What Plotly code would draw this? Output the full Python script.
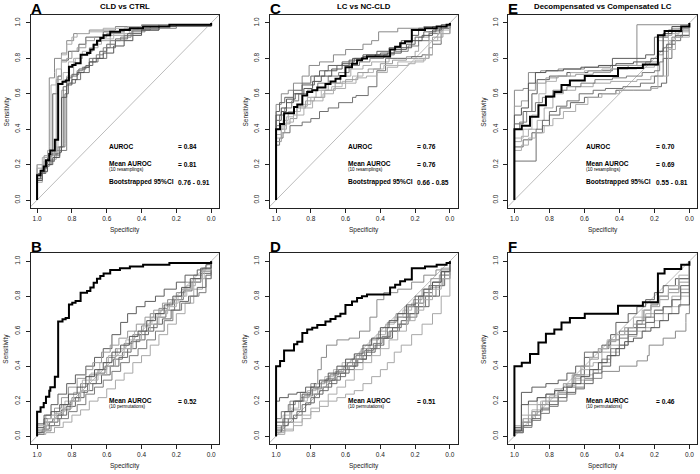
import plotly.graph_objects as go

# ---------------- data ----------------
tick_vals = [1.0, 0.8, 0.6, 0.4, 0.2, 0.0]
tick_text = ["1.0", "0.8", "0.6", "0.4", "0.2", "0.0"]

panel_letters = ["A", "C", "E", "B", "D", "F"]
panel_titles = ["CLD vs CTRL", "LC vs NC-CLD", "Decompensated vs Compensated LC"]

auroc_vals = ["0.84", "0.76", "0.70"]
mean_resample_vals = ["0.81", "0.76", "0.69"]
ci_vals = ["0.76 - 0.91", "0.66 - 0.85", "0.55 - 0.81"]
mean_perm_vals = ["0.52", "0.51", "0.46"]

# main ROC curves (specificity, sensitivity) vertices
cld_ctrl_roc = [(1, 0), (1, 0.14), (0.98, 0.165), (0.962, 0.19), (0.949, 0.225), (0.93, 0.26), (0.924, 0.28),
                (0.898, 0.34), (0.879, 0.655), (0.854, 0.668), (0.836, 0.675), (0.817, 0.753), (0.798, 0.763),
                (0.779, 0.772), (0.75, 0.82), (0.713, 0.83), (0.694, 0.85), (0.675, 0.877), (0.656, 0.9),
                (0.637, 0.915), (0.618, 0.93), (0.58, 0.95), (0.524, 0.96), (0.467, 0.97), (0.391, 0.98),
                (0.24, 0.99), (0.0, 1.0)]
lc_ncld_roc = [(1, 0), (1, 0.40), (0.977, 0.43), (0.954, 0.49), (0.897, 0.525), (0.878, 0.54), (0.849, 0.59),
               (0.821, 0.61), (0.792, 0.62), (0.763, 0.635), (0.716, 0.655), (0.687, 0.67), (0.658, 0.685),
               (0.63, 0.70), (0.601, 0.75), (0.563, 0.77), (0.534, 0.79), (0.506, 0.80), (0.477, 0.81),
               (0.344, 0.85), (0.315, 0.865), (0.286, 0.885), (0.258, 0.895), (0.219, 0.96), (0.143, 0.97),
               (0.076, 0.98), (0.019, 0.99), (0, 1.0)]
decomp_roc = [(1, 0), (1, 0.40), (0.958, 0.42), (0.911, 0.47), (0.863, 0.535), (0.82, 0.585), (0.772, 0.61),
              (0.731, 0.65), (0.683, 0.675), (0.598, 0.70), (0.408, 0.745), (0.266, 0.765), (0.18, 0.93),
              (0.142, 0.955), (0.047, 0.98), (0, 1.0)]

cld_ctrl_resamplings = [
    [(1,0),(1,0.2),(0.96,0.25),(0.93,0.3),(0.93,0.69),(0.9,0.72),(0.9,0.8),(0.86,0.83),(0.83,0.9),(0.79,0.94),(0.7,0.96),(0.55,0.98),(0.4,0.99),(0,1)],
    [(1,0),(1,0.12),(0.97,0.18),(0.94,0.25),(0.91,0.28),(0.91,0.6),(0.88,0.7),(0.86,0.79),(0.82,0.84),(0.76,0.88),(0.72,0.92),(0.62,0.95),(0.5,0.97),(0.3,0.99),(0,1)],
    [(1,0),(1,0.1),(0.97,0.2),(0.92,0.23),(0.89,0.28),(0.86,0.32),(0.86,0.62),(0.83,0.7),(0.79,0.8),(0.74,0.82),(0.7,0.86),(0.65,0.9),(0.58,0.93),(0.5,0.96),(0.4,0.98),(0.25,0.99),(0,1)],
    [(1,0),(1,0.15),(0.96,0.2),(0.92,0.26),(0.88,0.3),(0.84,0.32),(0.84,0.6),(0.82,0.66),(0.78,0.68),(0.75,0.72),(0.7,0.78),(0.65,0.8),(0.6,0.86),(0.55,0.9),(0.5,0.93),(0.45,0.96),(0.35,0.98),(0.2,0.99),(0,1)],
    [(1,0),(1,0.13),(0.97,0.2),(0.93,0.27),(0.9,0.3),(0.88,0.32),(0.88,0.66),(0.85,0.72),(0.82,0.78),(0.78,0.8),(0.74,0.84),(0.68,0.88),(0.63,0.91),(0.56,0.94),(0.47,0.97),(0.3,0.98),(0,1)],
    [(1,0),(1,0.12),(0.98,0.15),(0.95,0.22),(0.9,0.26),(0.87,0.3),(0.85,0.35),(0.85,0.64),(0.83,0.69),(0.8,0.71),(0.76,0.74),(0.72,0.76),(0.68,0.8),(0.64,0.84),(0.6,0.88),(0.55,0.91),(0.48,0.94),(0.4,0.96),(0.3,0.98),(0.2,0.99),(0,1)],
    [(1,0),(1,0.18),(0.96,0.22),(0.93,0.25),(0.9,0.27),(0.89,0.3),(0.89,0.68),(0.86,0.78),(0.83,0.8),(0.8,0.84),(0.77,0.86),(0.72,0.9),(0.67,0.92),(0.6,0.94),(0.52,0.96),(0.42,0.98),(0.25,0.99),(0,1)],
    [(1,0),(1,0.15),(0.96,0.19),(0.93,0.22),(0.9,0.25),(0.87,0.28),(0.83,0.3),(0.83,0.66),(0.8,0.7),(0.77,0.73),(0.74,0.75),(0.7,0.8),(0.66,0.82),(0.62,0.86),(0.58,0.9),(0.52,0.92),(0.46,0.95),(0.38,0.97),(0.2,0.98),(0,1)],
    [(1,0),(1,0.2),(0.97,0.24),(0.94,0.28),(0.92,0.3),(0.92,0.65),(0.89,0.74),(0.86,0.82),(0.83,0.88),(0.8,0.92),(0.77,0.94),(0.7,0.95),(0.62,0.97),(0.48,0.98),(0.3,0.99),(0,1)],
    [(1,0),(1,0.11),(0.97,0.16),(0.94,0.2),(0.91,0.24),(0.87,0.27),(0.86,0.3),(0.86,0.58),(0.83,0.65),(0.8,0.68),(0.77,0.72),(0.73,0.75),(0.7,0.78),(0.66,0.8),(0.62,0.83),(0.56,0.87),(0.5,0.9),(0.45,0.93),(0.4,0.96),(0.3,0.98),(0.2,0.99),(0,1)],
]

lc_ncld_resamplings = [
    [(1,0),(1,0.54),(0.97,0.6),(0.93,0.62),(0.9,0.66),(0.85,0.7),(0.81,0.76),(0.75,0.78),(0.67,0.82),(0.6,0.85),(0.5,0.88),(0.45,0.9),(0.41,0.95),(0.3,0.97),(0.15,0.98),(0,1)],
    [(1,0),(1,0.45),(0.97,0.5),(0.94,0.55),(0.9,0.6),(0.85,0.65),(0.78,0.7),(0.72,0.73),(0.65,0.76),(0.58,0.79),(0.5,0.82),(0.42,0.84),(0.35,0.86),(0.28,0.9),(0.22,0.93),(0.18,0.97),(0.1,0.98),(0,1)],
    [(1,0),(1,0.4),(0.96,0.45),(0.93,0.5),(0.88,0.53),(0.82,0.58),(0.77,0.62),(0.7,0.66),(0.63,0.7),(0.57,0.74),(0.5,0.76),(0.45,0.78),(0.35,0.8),(0.25,0.81),(0.2,0.84),(0.18,0.92),(0.12,0.95),(0.05,0.98),(0,1)],
    [(1,0),(1,0.31),(0.98,0.35),(0.96,0.38),(0.92,0.42),(0.85,0.44),(0.8,0.46),(0.75,0.5),(0.7,0.52),(0.64,0.55),(0.56,0.58),(0.54,0.59),(0.47,0.64),(0.42,0.73),(0.37,0.8),(0.3,0.8),(0.22,0.81),(0.16,0.82),(0.1,0.88),(0.05,0.94),(0,1)],
    [(1,0),(1,0.35),(0.97,0.42),(0.94,0.47),(0.9,0.5),(0.86,0.54),(0.8,0.58),(0.74,0.62),(0.68,0.64),(0.62,0.67),(0.56,0.7),(0.5,0.72),(0.44,0.74),(0.38,0.76),(0.3,0.78),(0.2,0.79),(0.14,0.82),(0.1,0.9),(0.05,0.96),(0,1)],
    [(1,0),(1,0.5),(0.98,0.55),(0.95,0.58),(0.9,0.62),(0.85,0.66),(0.8,0.7),(0.75,0.73),(0.7,0.76),(0.62,0.78),(0.55,0.8),(0.48,0.82),(0.4,0.83),(0.32,0.85),(0.25,0.88),(0.2,0.92),(0.15,0.95),(0.08,0.97),(0,1)],
    [(1,0),(1,0.33),(0.97,0.38),(0.95,0.43),(0.92,0.46),(0.88,0.52),(0.83,0.56),(0.78,0.58),(0.72,0.62),(0.66,0.66),(0.6,0.68),(0.53,0.72),(0.47,0.74),(0.4,0.77),(0.33,0.79),(0.25,0.8),(0.18,0.8),(0.12,0.86),(0.1,0.92),(0.04,0.97),(0,1)],
    [(1,0),(1,0.42),(0.98,0.48),(0.95,0.52),(0.91,0.56),(0.87,0.6),(0.82,0.62),(0.76,0.66),(0.7,0.7),(0.64,0.72),(0.58,0.76),(0.52,0.78),(0.46,0.8),(0.38,0.82),(0.32,0.84),(0.24,0.87),(0.18,0.9),(0.12,0.94),(0.06,0.97),(0,1)],
    [(1,0),(1,0.37),(0.97,0.4),(0.94,0.44),(0.9,0.48),(0.84,0.52),(0.79,0.56),(0.73,0.6),(0.67,0.63),(0.6,0.66),(0.54,0.69),(0.48,0.7),(0.42,0.72),(0.36,0.75),(0.3,0.76),(0.24,0.77),(0.2,0.78),(0.15,0.8),(0.12,0.9),(0.07,0.94),(0,1)],
    [(1,0),(1,0.48),(0.97,0.52),(0.94,0.57),(0.89,0.6),(0.84,0.63),(0.79,0.67),(0.74,0.7),(0.68,0.74),(0.62,0.77),(0.56,0.8),(0.5,0.81),(0.43,0.82),(0.36,0.83),(0.28,0.86),(0.22,0.9),(0.16,0.93),(0.1,0.96),(0.05,0.99),(0,1)],
]

decomp_resamplings = [
    [(1,0),(1,0.62),(0.95,0.63),(0.92,0.72),(0.85,0.73),(0.75,0.74),(0.6,0.75),(0.45,0.76),(0.3,0.78),(0.3,0.99),(0,1)],
    [(1,0),(1,0.43),(0.95,0.5),(0.9,0.6),(0.87,0.68),(0.8,0.7),(0.7,0.72),(0.58,0.73),(0.44,0.8),(0.25,0.82),(0.2,0.92),(0.12,0.96),(0.05,0.97),(0,1)],
    [(1,0),(1,0.33),(0.96,0.36),(0.92,0.4),(0.87,0.45),(0.83,0.52),(0.78,0.6),(0.72,0.62),(0.65,0.64),(0.55,0.66),(0.45,0.67),(0.3,0.68),(0.22,0.7),(0.18,0.84),(0.12,0.9),(0.08,0.95),(0,1)],
    [(1,0),(1,0.22),(0.876,0.22),(0.876,0.4),(0.84,0.45),(0.8,0.5),(0.76,0.53),(0.7,0.56),(0.63,0.6),(0.55,0.62),(0.48,0.63),(0.38,0.64),(0.28,0.66),(0.2,0.7),(0.15,0.8),(0.1,0.9),(0.05,0.93),(0,1)],
    [(1,0),(1,0.35),(0.95,0.4),(0.9,0.48),(0.86,0.6),(0.82,0.67),(0.76,0.7),(0.68,0.72),(0.6,0.73),(0.5,0.74),(0.4,0.74),(0.3,0.75),(0.2,0.76),(0.18,0.9),(0.12,0.94),(0.06,0.97),(0,1)],
    [(1,0),(1,0.3),(0.95,0.34),(0.9,0.38),(0.84,0.42),(0.8,0.48),(0.74,0.52),(0.68,0.55),(0.6,0.58),(0.52,0.6),(0.42,0.62),(0.32,0.62),(0.22,0.64),(0.16,0.66),(0.13,0.88),(0.08,0.93),(0,1)],
    [(1,0),(1,0.53),(0.96,0.56),(0.92,0.62),(0.88,0.66),(0.82,0.69),(0.75,0.7),(0.65,0.71),(0.55,0.72),(0.45,0.74),(0.35,0.76),(0.25,0.78),(0.18,0.82),(0.15,0.93),(0.1,0.97),(0,1)],
    [(1,0),(1,0.4),(0.97,0.44),(0.93,0.5),(0.88,0.55),(0.84,0.58),(0.78,0.62),(0.7,0.64),(0.62,0.66),(0.54,0.68),(0.44,0.69),(0.36,0.7),(0.27,0.72),(0.2,0.73),(0.17,0.78),(0.15,0.86),(0.1,0.92),(0.04,0.96),(0,1)],
    [(1,0),(1,0.28),(0.96,0.31),(0.92,0.35),(0.88,0.38),(0.83,0.42),(0.78,0.46),(0.72,0.5),(0.65,0.54),(0.58,0.58),(0.5,0.6),(0.4,0.62),(0.3,0.62),(0.22,0.63),(0.18,0.7),(0.12,0.85),(0.08,0.92),(0,1)],
    [(1,0),(1,0.48),(0.96,0.52),(0.92,0.66),(0.88,0.72),(0.82,0.73),(0.72,0.74),(0.62,0.75),(0.52,0.76),(0.42,0.77),(0.32,0.78),(0.22,0.8),(0.18,0.84),(0.15,0.94),(0.1,0.98),(0,1)],
]

cld_ctrl_permutations = [
    [(1,0),(1,0.03),(0.95,0.06),(0.9,0.12),(0.85,0.18),(0.8,0.22),(0.75,0.3),(0.7,0.35),(0.65,0.38),(0.6,0.45),(0.55,0.5),(0.5,0.53),(0.45,0.58),(0.4,0.63),(0.35,0.7),(0.3,0.73),(0.25,0.78),(0.2,0.82),(0.15,0.88),(0.1,0.92),(0.05,0.96),(0,1)],
    [(1,0),(1,0.05),(0.96,0.1),(0.92,0.18),(0.88,0.24),(0.83,0.3),(0.78,0.35),(0.72,0.4),(0.67,0.45),(0.62,0.5),(0.57,0.58),(0.52,0.65),(0.48,0.7),(0.43,0.74),(0.38,0.77),(0.32,0.8),(0.27,0.84),(0.2,0.88),(0.15,0.92),(0.08,0.95),(0.03,0.98),(0,1)],
    [(1,0),(1,0.01),(0.95,0.02),(0.9,0.05),(0.85,0.08),(0.8,0.12),(0.75,0.15),(0.7,0.2),(0.65,0.22),(0.6,0.27),(0.55,0.32),(0.5,0.36),(0.45,0.42),(0.4,0.46),(0.35,0.52),(0.3,0.58),(0.25,0.64),(0.2,0.7),(0.15,0.76),(0.1,0.84),(0.05,0.9),(0,1)],
    [(1,0),(1,0.02),(0.96,0.08),(0.91,0.1),(0.86,0.15),(0.81,0.2),(0.76,0.25),(0.71,0.3),(0.66,0.36),(0.61,0.4),(0.56,0.44),(0.51,0.48),(0.46,0.54),(0.41,0.58),(0.36,0.62),(0.31,0.68),(0.26,0.72),(0.21,0.78),(0.16,0.83),(0.11,0.88),(0.06,0.93),(0,1)],
    [(1,0),(1,0.06),(0.94,0.1),(0.89,0.14),(0.84,0.2),(0.79,0.25),(0.74,0.32),(0.69,0.36),(0.64,0.42),(0.59,0.46),(0.54,0.5),(0.49,0.55),(0.44,0.6),(0.39,0.64),(0.34,0.68),(0.29,0.72),(0.24,0.76),(0.19,0.8),(0.14,0.86),(0.09,0.9),(0.04,0.95),(0,1)],
    [(1,0),(1,0.02),(0.97,0.04),(0.93,0.08),(0.88,0.12),(0.83,0.17),(0.78,0.22),(0.73,0.26),(0.68,0.3),(0.63,0.35),(0.58,0.4),(0.53,0.45),(0.48,0.5),(0.43,0.55),(0.38,0.6),(0.33,0.64),(0.28,0.67),(0.23,0.72),(0.18,0.77),(0.13,0.8),(0.08,0.85),(0.03,0.92),(0,1)],
    [(1,0),(1,0.04),(0.95,0.12),(0.9,0.16),(0.86,0.22),(0.82,0.28),(0.77,0.33),(0.72,0.38),(0.68,0.42),(0.63,0.48),(0.58,0.52),(0.53,0.56),(0.48,0.6),(0.43,0.64),(0.38,0.68),(0.33,0.72),(0.28,0.76),(0.22,0.78),(0.17,0.84),(0.12,0.88),(0.06,0.94),(0,1)],
    [(1,0),(1,0.01),(0.96,0.03),(0.92,0.06),(0.87,0.1),(0.82,0.14),(0.77,0.18),(0.72,0.24),(0.67,0.28),(0.62,0.32),(0.57,0.37),(0.52,0.42),(0.47,0.46),(0.42,0.5),(0.37,0.55),(0.32,0.6),(0.27,0.66),(0.22,0.72),(0.17,0.76),(0.12,0.8),(0.07,0.82),(0.03,0.9),(0,1)],
    [(1,0),(1,0.03),(0.95,0.08),(0.9,0.13),(0.85,0.16),(0.8,0.2),(0.75,0.26),(0.7,0.32),(0.65,0.35),(0.6,0.4),(0.55,0.46),(0.5,0.5),(0.45,0.55),(0.4,0.6),(0.35,0.64),(0.3,0.7),(0.25,0.74),(0.2,0.8),(0.15,0.84),(0.1,0.9),(0.05,0.95),(0,1)],
    [(1,0),(1,0.07),(0.96,0.12),(0.92,0.14),(0.87,0.18),(0.82,0.24),(0.77,0.28),(0.72,0.34),(0.67,0.38),(0.62,0.42),(0.57,0.48),(0.52,0.52),(0.47,0.57),(0.42,0.6),(0.37,0.66),(0.32,0.7),(0.27,0.75),(0.22,0.8),(0.17,0.85),(0.12,0.9),(0.06,0.96),(0,1)],
]

lc_ncld_permutations = [
    [(1,0),(1,0.04),(0.96,0.1),(0.92,0.2),(0.86,0.25),(0.8,0.3),(0.76,0.38),(0.74,0.45),(0.71,0.52),(0.65,0.55),(0.58,0.56),(0.52,0.6),(0.46,0.68),(0.42,0.78),(0.38,0.82),(0.3,0.84),(0.22,0.88),(0.15,0.92),(0.08,0.95),(0,1)],
    [(1,0),(1,0.2),(0.98,0.22),(0.93,0.24),(0.88,0.25),(0.83,0.28),(0.78,0.3),(0.72,0.32),(0.66,0.36),(0.6,0.4),(0.54,0.44),(0.48,0.5),(0.42,0.56),(0.36,0.62),(0.3,0.68),(0.24,0.74),(0.18,0.8),(0.12,0.86),(0.06,0.92),(0,1)],
    [(1,0),(1,0.01),(0.95,0.03),(0.9,0.06),(0.85,0.1),(0.8,0.14),(0.75,0.17),(0.7,0.2),(0.65,0.22),(0.6,0.24),(0.55,0.26),(0.5,0.3),(0.45,0.34),(0.4,0.38),(0.36,0.42),(0.32,0.48),(0.28,0.52),(0.22,0.58),(0.16,0.64),(0.1,0.7),(0.05,0.8),(0,1)],
    [(1,0),(1,0.03),(0.95,0.08),(0.9,0.12),(0.85,0.18),(0.8,0.22),(0.75,0.26),(0.7,0.3),(0.65,0.34),(0.6,0.38),(0.55,0.42),(0.5,0.46),(0.45,0.5),(0.4,0.56),(0.35,0.6),(0.3,0.64),(0.25,0.7),(0.2,0.76),(0.15,0.82),(0.1,0.88),(0.05,0.94),(0,1)],
    [(1,0),(1,0.05),(0.96,0.12),(0.92,0.16),(0.87,0.2),(0.82,0.26),(0.77,0.3),(0.72,0.34),(0.67,0.38),(0.62,0.42),(0.57,0.44),(0.52,0.48),(0.47,0.52),(0.42,0.58),(0.37,0.64),(0.32,0.68),(0.27,0.72),(0.22,0.76),(0.17,0.8),(0.12,0.85),(0.06,0.92),(0,1)],
    [(1,0),(1,0.02),(0.97,0.06),(0.93,0.1),(0.88,0.14),(0.83,0.19),(0.78,0.24),(0.73,0.28),(0.68,0.32),(0.63,0.36),(0.58,0.4),(0.53,0.44),(0.48,0.48),(0.43,0.52),(0.38,0.56),(0.33,0.62),(0.28,0.66),(0.23,0.7),(0.18,0.74),(0.12,0.8),(0.06,0.86),(0.03,0.94),(0,1)],
    [(1,0),(1,0.06),(0.96,0.1),(0.91,0.15),(0.86,0.22),(0.81,0.24),(0.76,0.28),(0.71,0.33),(0.66,0.37),(0.61,0.4),(0.56,0.44),(0.51,0.5),(0.46,0.55),(0.41,0.6),(0.36,0.65),(0.31,0.7),(0.26,0.74),(0.21,0.78),(0.16,0.84),(0.11,0.9),(0.05,0.96),(0,1)],
    [(1,0),(1,0.1),(0.97,0.14),(0.93,0.18),(0.89,0.2),(0.84,0.23),(0.79,0.27),(0.74,0.31),(0.69,0.35),(0.64,0.38),(0.59,0.42),(0.54,0.46),(0.49,0.49),(0.44,0.53),(0.39,0.57),(0.34,0.6),(0.29,0.64),(0.24,0.68),(0.19,0.74),(0.14,0.8),(0.08,0.86),(0.04,0.9),(0,1)],
    [(1,0),(1,0.02),(0.95,0.04),(0.9,0.08),(0.85,0.12),(0.8,0.16),(0.75,0.2),(0.7,0.24),(0.65,0.28),(0.6,0.32),(0.55,0.38),(0.5,0.42),(0.45,0.46),(0.4,0.5),(0.35,0.55),(0.3,0.6),(0.25,0.66),(0.2,0.72),(0.15,0.78),(0.1,0.84),(0.05,0.9),(0,1)],
    [(1,0),(1,0.08),(0.95,0.14),(0.9,0.2),(0.85,0.24),(0.8,0.28),(0.75,0.32),(0.7,0.36),(0.65,0.4),(0.6,0.44),(0.55,0.47),(0.5,0.52),(0.45,0.56),(0.4,0.62),(0.35,0.66),(0.3,0.7),(0.25,0.75),(0.2,0.8),(0.15,0.84),(0.1,0.88),(0.05,0.94),(0,1)],
]

decomp_permutations = [
    [(1,0),(1,0.02),(0.95,0.1),(0.9,0.14),(0.85,0.18),(0.8,0.22),(0.75,0.25),(0.7,0.28),(0.65,0.3),(0.6,0.33),(0.5,0.37),(0.4,0.4),(0.3,0.43),(0.24,0.46),(0.23,0.52),(0.15,0.56),(0.08,0.6),(0.02,0.65),(0.02,0.7),(0,1)],
    [(1,0),(1,0.05),(0.96,0.25),(0.9,0.28),(0.82,0.3),(0.75,0.32),(0.7,0.36),(0.65,0.4),(0.6,0.45),(0.55,0.48),(0.5,0.52),(0.45,0.58),(0.42,0.65),(0.35,0.7),(0.3,0.74),(0.25,0.78),(0.2,0.82),(0.15,0.86),(0.08,0.9),(0,1)],
    [(1,0),(1,0.03),(0.96,0.06),(0.92,0.1),(0.88,0.14),(0.84,0.2),(0.8,0.22),(0.75,0.25),(0.7,0.28),(0.65,0.34),(0.6,0.4),(0.55,0.42),(0.5,0.48),(0.45,0.52),(0.4,0.58),(0.35,0.62),(0.3,0.66),(0.25,0.7),(0.2,0.72),(0.15,0.74),(0.1,0.8),(0.05,0.84),(0,0.9),(0,1)],
    [(1,0),(1,0.02),(0.95,0.08),(0.9,0.12),(0.85,0.16),(0.8,0.2),(0.75,0.24),(0.7,0.3),(0.66,0.35),(0.6,0.48),(0.52,0.5),(0.46,0.55),(0.4,0.6),(0.35,0.62),(0.3,0.66),(0.26,0.72),(0.22,0.75),(0.18,0.8),(0.12,0.84),(0.06,0.9),(0,1)],
    [(1,0),(1,0.04),(0.95,0.1),(0.9,0.15),(0.85,0.2),(0.8,0.23),(0.75,0.26),(0.7,0.29),(0.65,0.32),(0.6,0.35),(0.55,0.36),(0.52,0.42),(0.45,0.48),(0.4,0.52),(0.35,0.57),(0.3,0.6),(0.25,0.62),(0.2,0.66),(0.15,0.7),(0.1,0.74),(0.05,0.8),(0,0.82),(0,1)],
    [(1,0),(1,0.03),(0.95,0.06),(0.9,0.1),(0.85,0.15),(0.8,0.18),(0.75,0.22),(0.7,0.25),(0.65,0.27),(0.6,0.3),(0.55,0.36),(0.5,0.4),(0.45,0.46),(0.4,0.52),(0.35,0.58),(0.3,0.62),(0.25,0.65),(0.2,0.7),(0.15,0.74),(0.1,0.78),(0.05,0.86),(0,0.92),(0,1)],
    [(1,0),(1,0.04),(0.96,0.08),(0.92,0.12),(0.87,0.18),(0.82,0.22),(0.77,0.26),(0.72,0.3),(0.67,0.35),(0.62,0.4),(0.57,0.44),(0.52,0.5),(0.47,0.54),(0.42,0.58),(0.37,0.62),(0.32,0.64),(0.27,0.68),(0.22,0.74),(0.17,0.78),(0.12,0.82),(0.06,0.88),(0,0.94),(0,1)],
    [(1,0),(1,0.02),(0.95,0.05),(0.9,0.09),(0.85,0.13),(0.8,0.17),(0.75,0.2),(0.7,0.24),(0.65,0.28),(0.6,0.32),(0.55,0.38),(0.5,0.44),(0.45,0.5),(0.4,0.56),(0.35,0.6),(0.3,0.64),(0.25,0.68),(0.2,0.72),(0.15,0.74),(0.1,0.78),(0.05,0.82),(0,0.84),(0,1)],
    [(1,0),(1,0.06),(0.96,0.12),(0.92,0.18),(0.87,0.22),(0.82,0.24),(0.77,0.27),(0.72,0.3),(0.67,0.33),(0.62,0.38),(0.57,0.45),(0.52,0.5),(0.47,0.55),(0.42,0.58),(0.37,0.62),(0.32,0.68),(0.27,0.72),(0.22,0.76),(0.17,0.8),(0.12,0.86),(0.06,0.92),(0,1)],
    [(1,0),(1,0.03),(0.96,0.18),(0.92,0.2),(0.87,0.22),(0.82,0.24),(0.77,0.26),(0.72,0.28),(0.67,0.3),(0.62,0.34),(0.57,0.38),(0.52,0.42),(0.47,0.46),(0.42,0.5),(0.37,0.54),(0.32,0.56),(0.27,0.6),(0.22,0.62),(0.17,0.66),(0.12,0.7),(0.06,0.75),(0,0.82),(0,1)],
]

# ---------------- layout geometry (pixels) ----------------
W, H = 700, 474
FONT = "Liberation Sans"
col_px = [(31, 219), (270, 457.7), (508.3, 697.3)]
row_px = [(15, 208), (253.3, 444)]
XR = [1.035, -0.045]
YR = [-0.045, 1.045]
grays = ["#8a8a8a", "#5e5e5e", "#a8a8a8", "#707070", "#b4b4b4", "#666666", "#9a9a9a", "#7c7c7c", "#adadad", "#555555"]


def px(x):
    return x / W


def py(y):
    return 1 - y / H


fig = go.Figure()
layout = dict(width=W, height=H, margin=dict(l=0, r=0, t=0, b=0, autoexpand=False), showlegend=False,
              plot_bgcolor="white", paper_bgcolor="white", font=dict(family=FONT, color="#222"))
annotations = []

panels = [
    (0, 0, cld_ctrl_roc, cld_ctrl_resamplings, "top", 0),
    (1, 0, lc_ncld_roc, lc_ncld_resamplings, "top", 1),
    (2, 0, decomp_roc, decomp_resamplings, "top", 2),
    (0, 1, cld_ctrl_roc, cld_ctrl_permutations, "bottom", 0),
    (1, 1, lc_ncld_roc, lc_ncld_permutations, "bottom", 1),
    (2, 1, decomp_roc, decomp_permutations, "bottom", 2),
]

for i, (c, r, main, extras, kind, k) in enumerate(panels):
    n = i + 1
    xa = "x" if n == 1 else f"x{n}"
    ya = "y" if n == 1 else f"y{n}"
    xl = "xaxis" if n == 1 else f"xaxis{n}"
    yl = "yaxis" if n == 1 else f"yaxis{n}"
    x0, x1 = col_px[c]
    y0, y1 = row_px[r]
    common = dict(showline=True, mirror=True, linecolor="#222", linewidth=1, showgrid=False, zeroline=False,
                  ticks="outside", ticklen=4, tickwidth=1, tickcolor="#222", automargin=False,
                  tickvals=tick_vals, ticktext=tick_text, tickfont=dict(size=6.5, family=FONT, color="#222"),
                  fixedrange=True)
    layout[xl] = dict(common, domain=[px(x0), px(x1)], range=XR, anchor=ya)
    layout[yl] = dict(common, domain=[py(y1), py(y0)], range=YR, anchor=xa, tickangle=-90,
                      ticklabelstandoff=3)

    # diagonal
    fig.add_trace(go.Scatter(x=[1.2, -0.2], y=[-0.2, 1.2], mode="lines", xaxis=xa, yaxis=ya,
                             line=dict(color="#aaaaaa", width=0.8), hoverinfo="skip"))
    for j, cur in enumerate(extras):
        fig.add_trace(go.Scatter(x=[p[0] for p in cur], y=[p[1] for p in cur], mode="lines",
                                 xaxis=xa, yaxis=ya, line=dict(color=grays[j % len(grays)], width=1, shape="hv"),
                                 hoverinfo="skip"))
    fig.add_trace(go.Scatter(x=[p[0] for p in main], y=[p[1] for p in main], mode="lines",
                             xaxis=xa, yaxis=ya, line=dict(color="black", width=2, shape="hv"), hoverinfo="skip"))

    cx = (x0 + x1) / 2
    # panel letter
    annotations.append(dict(text=f"<b>{panel_letters[i]}</b>", xref="paper", yref="paper",
                            x=px(x0 - 2), y=py(y0 - 6.5), xanchor="left", yanchor="middle",
                            showarrow=False, font=dict(size=15, family=FONT, color="black")))
    if r == 0:
        annotations.append(dict(text=f"<b>{panel_titles[c]}</b>", xref="paper", yref="paper",
                                x=px(cx), y=py(y0 - 8.3), xanchor="center", yanchor="middle",
                                showarrow=False, font=dict(size=7.8, family=FONT, color="black")))
    # axis titles
    annotations.append(dict(text="Specificity", xref="paper", yref="paper", x=px(cx), y=py(y1 + 21.5),
                            xanchor="center", yanchor="middle", showarrow=False,
                            font=dict(size=6.5, family=FONT, color="#222")))
    annotations.append(dict(text="Sensitivity", xref="paper", yref="paper", x=px(x0 - 25), y=py((y0 + y1) / 2),
                            xanchor="center", yanchor="middle", textangle=-90, showarrow=False,
                            font=dict(size=6.5, family=FONT, color="#222")))

    # stats text
    def txt(s, x, y, size, bold=True):
        annotations.append(dict(text=f"<b>{s}</b>" if bold else s, xref=xa, yref=ya, x=x, y=y,
                                xanchor="left", yanchor="middle", showarrow=False,
                                font=dict(size=size, family=FONT, color="black")))
    if kind == "top":
        txt("AUROC", 0.6, 0.3, 6.6)
        txt("= " + auroc_vals[k], 0.2, 0.3, 6.6)
        txt("Mean AUROC", 0.6, 0.204, 6.6)
        txt("(10 resamplings)", 0.6, 0.172, 4.6, bold=False)
        txt("= " + mean_resample_vals[k], 0.2, 0.2, 6.6)
        txt("Bootstrapped 95%CI", 0.6, 0.1, 6.6)
        txt(ci_vals[k], 0.2, 0.1, 6.6)
    else:
        txt("Mean AUROC", 0.6, 0.204, 6.6)
        txt("(10 permutations)", 0.6, 0.172, 4.6, bold=False)
        txt("= " + mean_perm_vals[k], 0.2, 0.2, 6.6)

layout["annotations"] = annotations
fig.update_layout(**layout)
fig.write_html("out.html", config={"displayModeBar": False, "staticPlot": True},
               post_script="document.body.style.margin='0';document.body.style.overflow='hidden';")
